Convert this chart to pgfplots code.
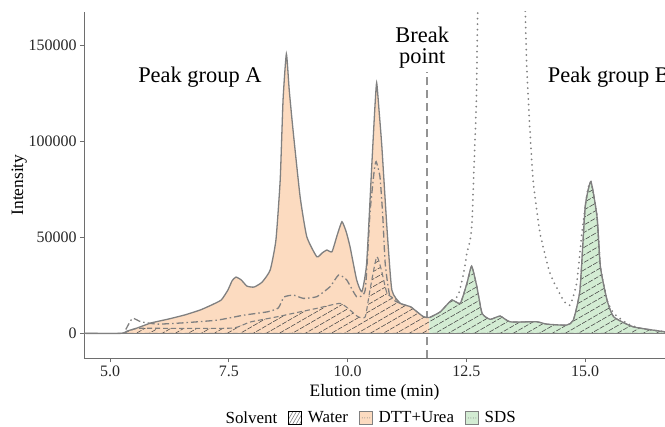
\documentclass[border=0pt]{standalone}
\usepackage{fontspec}
\setmainfont{Liberation Serif}
\usepackage{pgfplots}
\usepackage{pgfplotstable}
\pgfplotsset{compat=1.18}
\usetikzlibrary{patterns.meta}

\definecolor{orangefill}{RGB}{252,219,192}
\definecolor{greenfill}{RGB}{211,236,211}
\definecolor{linegray}{RGB}{128,128,128}
\definecolor{axgray}{RGB}{110,110,110}
\definecolor{hatchgray}{RGB}{70,70,70}

\pgfplotstableread{
x y
4.45 0
5.23 0
5.36 1200
5.57 2800
5.86 5400
6.22 7400
6.56 9500
6.89 12100
7.13 14700
7.34 17400
7.48 22600
7.57 27500
7.65 29300
7.76 27800
7.88 24600
8.03 24100
8.20 26700
8.37 33000
8.49 48600
8.58 79900
8.64 121500
8.71 145500
8.77 126700
8.85 105900
9.00 71000
9.14 50300
9.35 39900
9.46 41800
9.56 43400
9.67 42500
9.78 51200
9.88 58100
9.97 52800
10.05 45100
10.19 27800
10.30 21700
10.40 36500
10.51 88500
10.57 116300
10.61 130500
10.66 116300
10.72 97200
10.83 53800
10.93 22600
11.11 15600
11.32 13900
11.46 11200
11.60 8600
11.72 8200
}\envA

\pgfplotstableread{
x y
11.72 8200
11.95 11200
12.19 17300
12.37 15600
12.51 26000
12.61 35000
12.72 24300
12.83 10400
13.00 7300
13.21 9000
13.42 6000
13.98 6000
14.19 4800
14.61 4300
14.75 6900
14.89 22600
15.00 65900
15.12 79000
15.25 60700
15.32 34700
15.46 17300
15.60 8600
16.01 3400
16.68 800
}\envB

\pgfplotstableread{
x y
4.45 0
5.23 0
5.36 800
5.57 2600
6.21 2600
6.91 2600
7.61 2800
7.95 5900
8.51 8600
9.00 11200
9.35 13000
9.84 15600
10.05 12100
10.22 8600
10.37 8600
10.47 22600
10.61 39900
10.71 33000
10.83 20800
11.04 17300
11.11 15600
11.32 13900
11.46 11200
11.60 8600
11.72 8200
11.95 11200
12.19 17300
12.37 15600
12.51 26000
12.61 35000
12.72 24300
12.83 10400
13.00 7300
13.21 9000
13.42 6000
13.98 6000
14.19 4800
14.61 4300
14.75 6900
14.89 22600
15.00 65900
15.12 79000
15.25 60700
15.32 34700
15.46 17300
15.60 8600
16.01 3400
16.68 800
}\water

\pgfplotstableread{
x y
5.33 2000
5.47 7800
5.65 6000
6.00 4800
6.56 5500
7.26 6900
7.82 9500
8.31 11200
8.54 13200
8.66 18900
8.86 19900
9.07 18200
9.35 19100
9.63 24300
9.81 30400
9.98 27800
10.19 19100
10.37 22600
10.47 62700
10.56 85000
10.60 89400
10.68 81600
10.74 60700
10.79 36500
10.89 19100
11.11 15600
}\dtt

\pgfplotstableread{
x y
12.20 17300
12.33 19900
12.44 31200
12.51 41700
12.58 48600
12.62 59000
12.66 86800
12.71 121500
12.73 156400
12.76 184000
13.00 300000
13.23 350000
13.50 300000
13.71 184000
13.74 166700
13.77 138800
13.84 104300
13.91 78100
14.05 52100
14.26 31200
14.54 17300
14.68 14700
14.82 26000
14.93 52100
15.04 72900
15.12 79000
15.25 60700
15.32 34700
15.46 17300
15.60 10400
15.88 5200
16.16 2600
16.68 800
}\sds

\begin{document}
\begin{tikzpicture}
\begin{axis}[name=ax,
  width=581bp, height=346.6bp, scale only axis,
  xmin=4.45, xmax=16.68, ymin=-13000, ymax=167500,
  axis x line*=bottom, axis y line*=left,
  axis line style={-, draw=axgray, line width=0.8bp},
  xtick={5,7.5,10,12.5,15}, xticklabels={5.0,7.5,10.0,12.5,15.0},
  ytick={0,50000,100000,150000}, yticklabels={0,50000,100000,150000},
  scaled y ticks=false, scaled x ticks=false,
  tick align=outside, major tick length=4bp,
  tick style={axgray, line width=0.8bp},
  ticklabel style={font=\fontsize{16}{18}\selectfont, text=black!85},
  /pgf/number format/assume math mode=true,
  xlabel={Elution time (min)}, ylabel={Intensity},
  label style={font=\fontsize{17.5}{19}\selectfont},
  xlabel style={yshift=-1bp},
  ylabel style={yshift=-5bp},
  legend style={at={(0.49,-0.172)}, anchor=center, draw=none, fill=none,
    legend columns=-1, font=\fontsize{17}{19}\selectfont,
    /tikz/every even column/.append style={column sep=9bp},
    /tikz/every odd column/.append style={column sep=4bp}},
]
% break point line
\addplot[forget plot, draw=linegray!85, line width=1.4bp, dash pattern=on 8bp off 5bp]
  coordinates {(11.67,-13000) (11.67,136000)};
% filled envelopes
\addplot[forget plot, fill=orangefill, draw=none, smooth, tension=0.3] table[x=x,y=y]{\envA} \closedcycle;
\addplot[forget plot, fill=greenfill, draw=none, smooth, tension=0.3] table[x=x,y=y]{\envB} \closedcycle;
% water hatched
\addplot[forget plot, pattern={Lines[angle=30,distance=6.5bp,line width=0.55bp]}, pattern color=hatchgray,
  draw=linegray, line width=1.1bp, dash pattern=on 5bp off 3bp, smooth, tension=0.3] table[x=x,y=y]{\water} \closedcycle;
% DTT+Urea dash-dot
\addplot[forget plot, draw=linegray, line width=1.3bp, dash pattern=on 7bp off 3bp on 1.5bp off 3bp, smooth, tension=0.3]
  table[x=x,y=y]{\dtt};
% SDS dotted
\addplot[forget plot, draw=linegray, line width=2bp, line cap=round, dash pattern=on 0bp off 5.5bp, smooth, tension=0.3]
  table[x=x,y=y]{\sds};
% envelope outline
\addplot[forget plot, draw=linegray, line width=1.3bp, smooth, tension=0.3] table[x=x,y=y]{\envA};
\addplot[forget plot, draw=linegray, line width=1.3bp, smooth, tension=0.3] table[x=x,y=y]{\envB};
\addplot[forget plot, draw=linegray, line width=1.6bp] coordinates {(4.45,0) (16.68,0)};

\node[font=\fontsize{22.5}{24}\selectfont] at (axis cs:6.89,133500) {Peak group A};
\node[font=\fontsize{22.5}{21}\selectfont, align=center] at (axis cs:11.57,149000) {Break\\point};
\node[font=\fontsize{22.5}{24}\selectfont, anchor=west] at (axis cs:14.14,133500) {Peak group B};

\addlegendimage{empty legend}
\addlegendentry{Solvent}
\addlegendimage{legend image code/.code={
  \fill[pattern={Lines[angle=60,distance=3bp,line width=0.6bp]}, pattern color=linegray] (0bp,-6.5bp) rectangle (13bp,6.5bp);}}
\addlegendentry{Water}
\addlegendimage{legend image code/.code={
  \draw[fill=orangefill, draw=linegray, line width=0.7bp] (0bp,-6.5bp) rectangle (13bp,6.5bp);
  \draw[linegray, line width=1bp, line cap=round, dash pattern=on 0bp off 2.5bp] (3bp,0) -- (10.5bp,0);}}
\addlegendentry{DTT+Urea}
\addlegendimage{legend image code/.code={
  \draw[fill=greenfill, draw=linegray, line width=0.7bp] (0bp,-6.5bp) rectangle (13bp,6.5bp);
  \draw[linegray, line width=1bp, line cap=round, dash pattern=on 0bp off 2.5bp] (3bp,0) -- (10.5bp,0);}}
\addlegendentry{SDS}
\end{axis}
\pgfresetboundingbox
\useasboundingbox ([xshift=-84bp,yshift=-68.7bp]ax.south west) rectangle ([yshift=11.7bp]ax.north east);
\end{tikzpicture}
\end{document}
